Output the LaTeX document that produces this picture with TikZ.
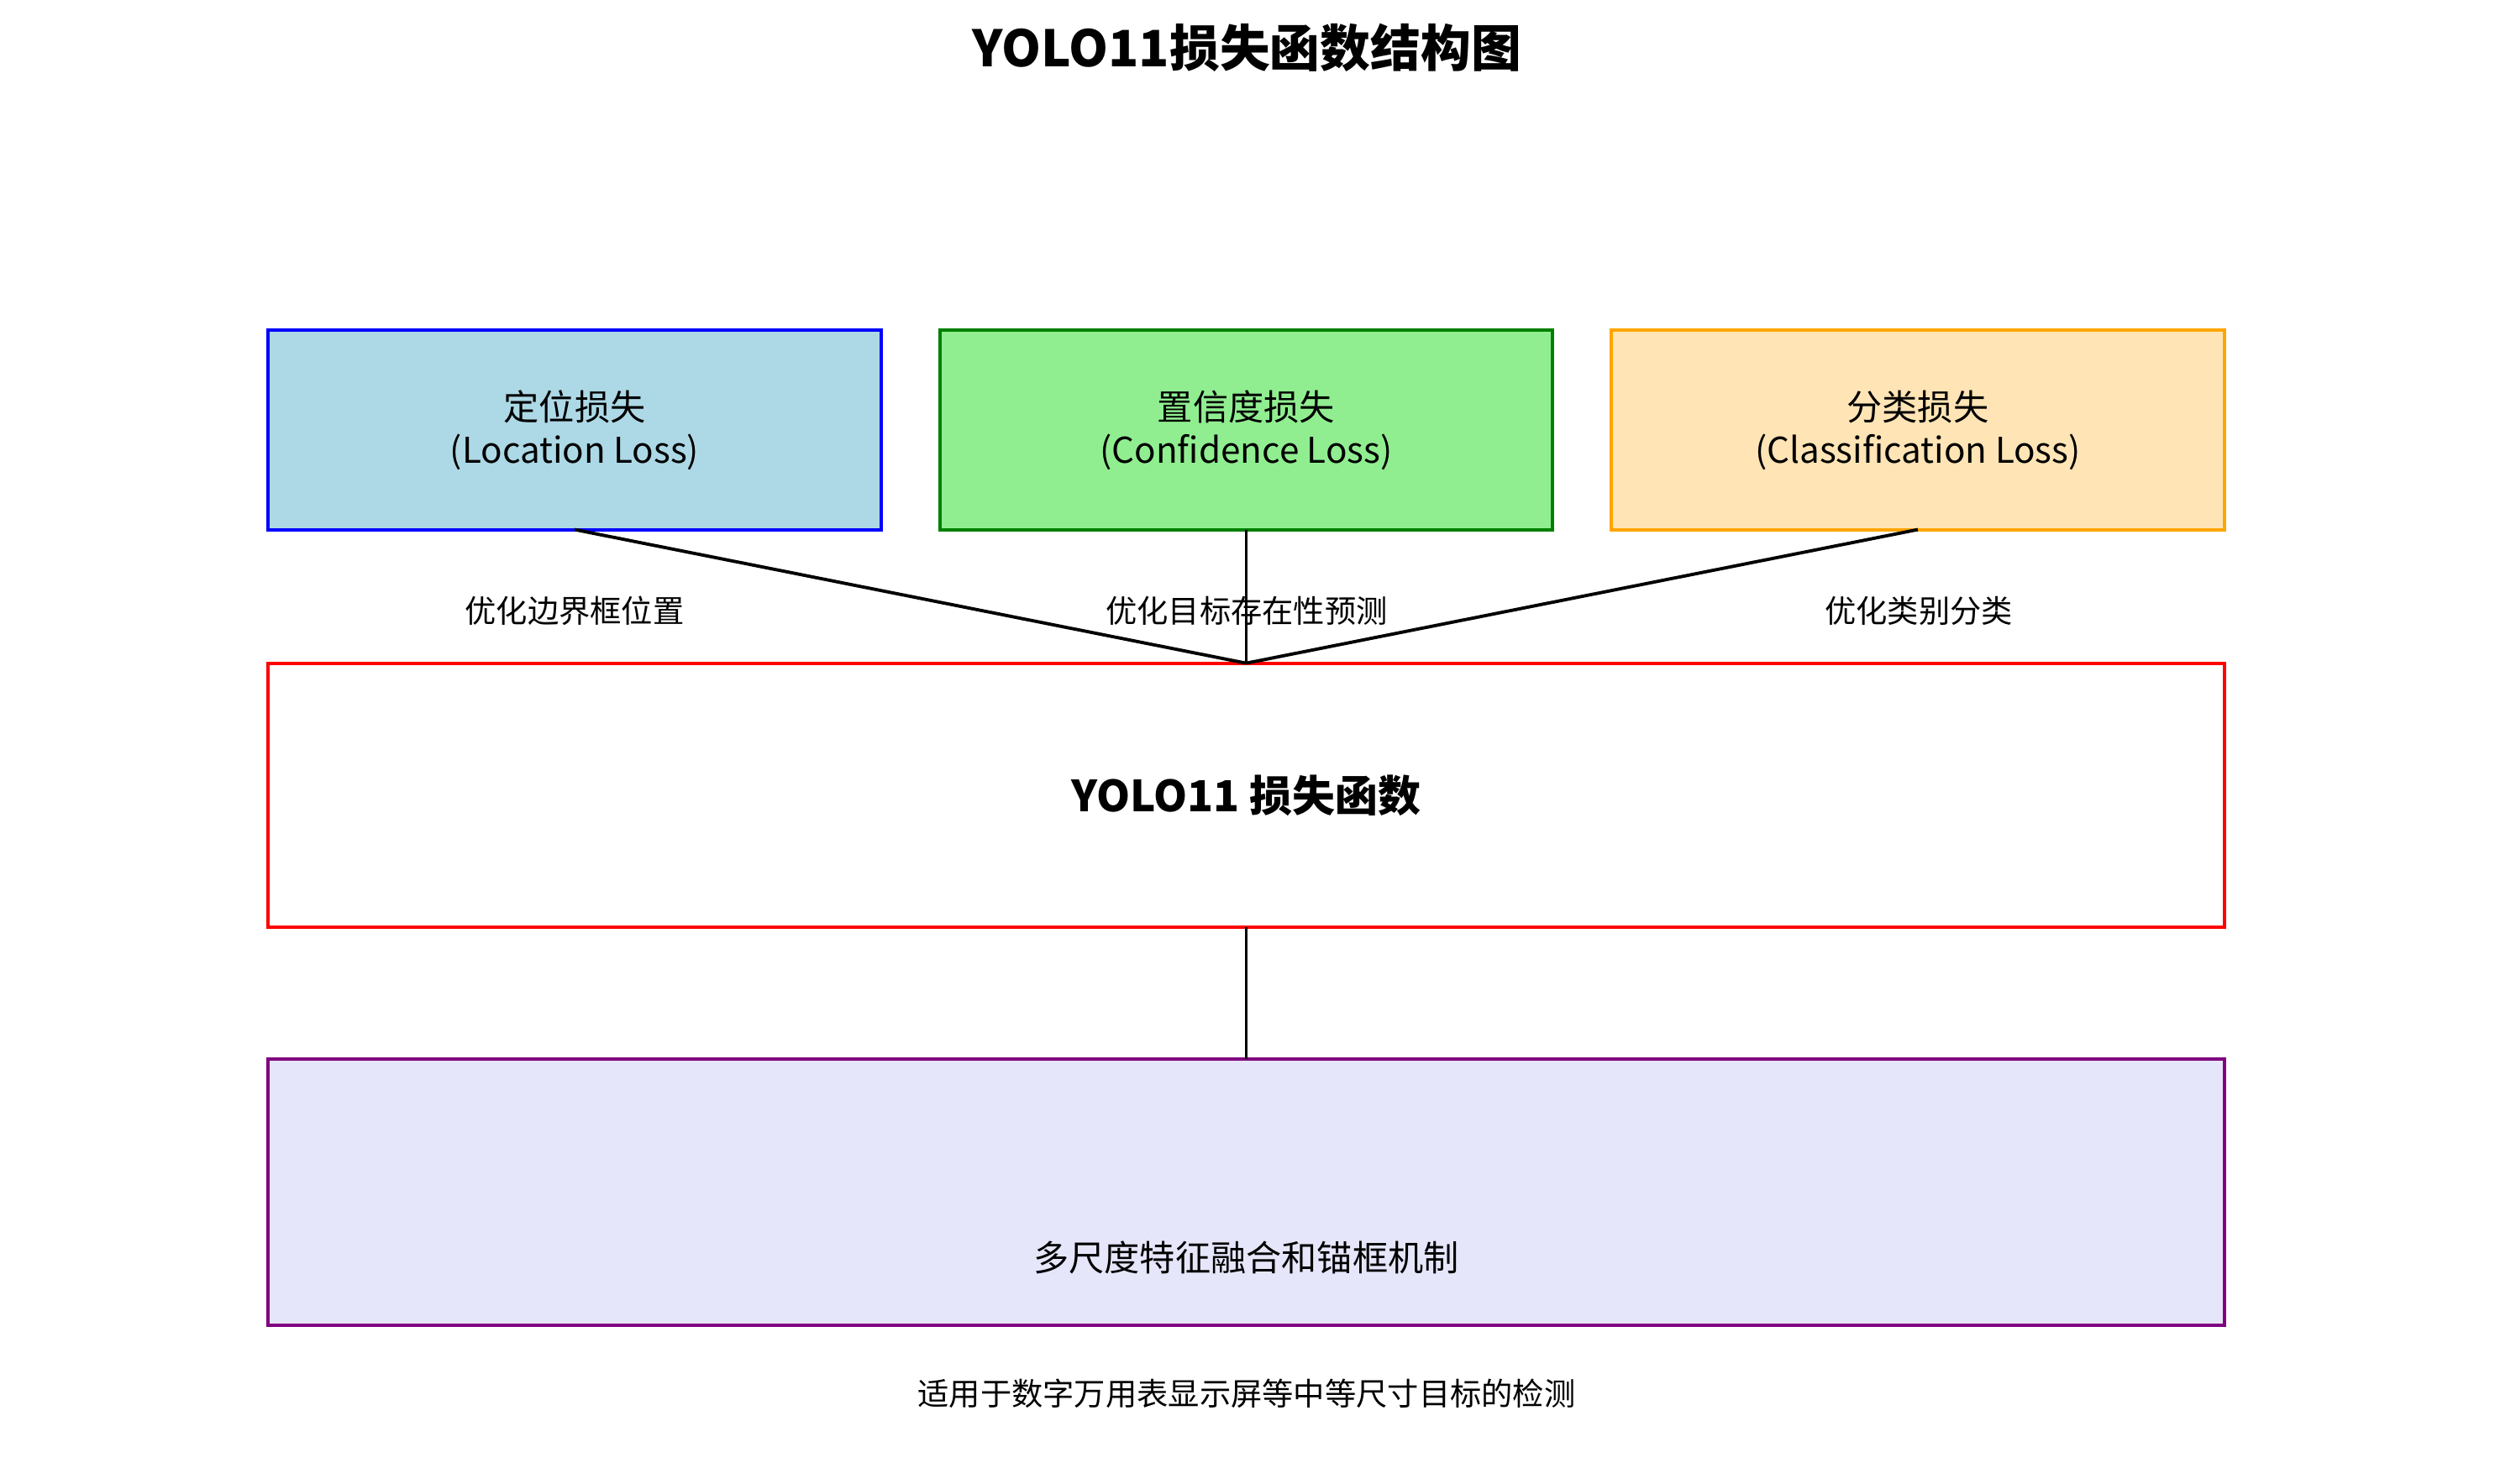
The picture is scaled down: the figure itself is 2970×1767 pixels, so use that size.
\documentclass[tikz,border=0pt]{standalone}
\usepackage{xcolor}
\usepackage{tikz}
\usepackage{fontspec}
\setmainfont{Noto Sans CJK SC}
\usetikzlibrary{positioning}
\definecolor{LocFill}  {HTML}{ADD8E6}
\definecolor{ConfFill} {HTML}{90EE90}
\definecolor{ConfEdge} {HTML}{008000}
\definecolor{ClsFill}  {HTML}{FFE4B5}
\definecolor{ClsEdge}  {HTML}{FFA500}
\definecolor{FuseFill} {HTML}{E6E6FA}
\definecolor{FuseEdge} {HTML}{800080}

\tikzset{
  lossbox/.style={rectangle,line width=1.1pt,outer sep=0pt,inner sep=0pt,
    minimum width=7.29cm,minimum height=2.37cm,align=center,
    font=\fontsize{12}{14.5}\selectfont},
  widebox/.style={rectangle,line width=1.1pt,outer sep=0pt,inner sep=0pt,
    minimum width=23.28cm},
  note/.style={font=\fontsize{10.6}{12}\selectfont},
  link/.style={line width=1.1pt,black}
}

\begin{document}
\begin{tikzpicture}[x=0.01cm,y=-0.01cm]
    \useasboundingbox (0,0) rectangle (2970,1767);
    \node[font=\bfseries\fontsize{17}{20}\selectfont] (title) at (1484,57) {YOLO11损失函数结构图};

    % three loss branches
    \node[lossbox,fill=LocFill,draw=blue] (loc) at (684,512) {定位损失\\(Location Loss)};
    \node[lossbox,fill=ConfFill,draw=ConfEdge,right=0.7cm of loc] (conf) {置信度损失\\(Confidence Loss)};
    \node[lossbox,fill=ClsFill,draw=ClsEdge,right=0.7cm of conf] (cls) {分类损失\\(Classification Loss)};

    \node[widebox,draw=red,fill=white,minimum height=3.14cm,below=1.59cm of conf,
          font=\bfseries\fontsize{14.5}{17}\selectfont] (total) {YOLO11 损失函数};
    \node[widebox,draw=FuseEdge,fill=FuseFill,minimum height=3.17cm,below=1.57cm of total] (fuse) {};
    \node[font=\fontsize{12}{14}\selectfont] (fusetxt) at ([yshift=-0.78cm]fuse.center) {多尺度特征融合和锚框机制};

    \draw[link] (loc.south) -- (total.north);
    \draw[link] (conf.south) -- (total.north);
    \draw[link] (cls.south) -- (total.north);
    \draw[link] (total.south) -- (fuse.north);

    \node[note] (locnote) at (684,727) {优化边界框位置};
    \node[note] (confnote) at (1484,727) {优化目标存在性预测};
    \node[note] (clsnote) at (2284,727) {优化类别分类};
    \node[note] (usenote) at (1484,1659) {适用于数字万用表显示屏等中等尺寸目标的检测};
  \end{tikzpicture}
\end{document}
